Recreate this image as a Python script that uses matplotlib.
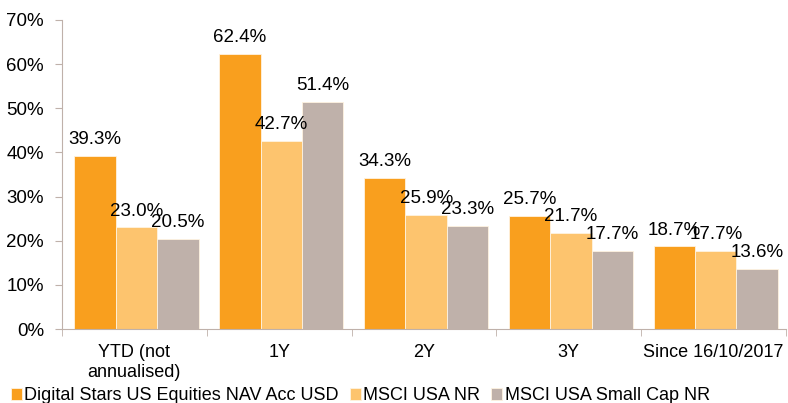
import numpy as np
import matplotlib.pyplot as plt
from matplotlib.ticker import FuncFormatter, FixedLocator

plt.rcParams['font.family'] = ['Liberation Sans', 'DejaVu Sans']

categories = ['YTD (not\nannualised)', '1Y', '2Y', '3Y', 'Since 16/10/2017']
series_names = ['Digital Stars US Equities NAV Acc USD', 'MSCI USA NR', 'MSCI USA Small Cap NR']
fund = [39.3, 62.4, 34.3, 25.7, 18.7]
msci_usa = [23.0, 42.7, 25.9, 21.7, 17.7]
msci_small = [20.5, 51.4, 23.3, 17.7, 13.6]
colors = ['#F99F1E', '#FDC46E', '#BFB1AA']

fig = plt.figure(figsize=(7.88, 4.03), dpi=100)
ax = fig.add_axes([62 / 788, 74 / 403, 724 / 788, 309 / 403])

x = np.arange(len(categories))
w = 0.286
for i, (vals, name, c) in enumerate(zip([fund, msci_usa, msci_small], series_names, colors)):
    pos = x + (i - 1) * w + 0.015
    ax.bar(pos, vals, w, color=c, edgecolor='#FFF3E0', linewidth=0.6, label=name)
    for p, v in zip(pos, vals):
        ax.text(p, v + 1.8, f'{v:.1f}%', ha='center', va='bottom', fontsize=13.5)

ax.set_xlim(-0.5, len(categories) - 0.5)
ax.set_ylim(0, 70)
ax.set_yticks(np.arange(0, 71, 10))
ax.yaxis.set_major_formatter(FuncFormatter(lambda v, _: f'{v:.0f}%'))
ax.set_xticks(x)
ax.set_xticklabels(categories, fontsize=13)
ax.xaxis.set_minor_locator(FixedLocator(np.arange(-0.5, len(categories), 1)))
ax.tick_params(axis='x', which='major', length=0, pad=11)
ax.tick_params(axis='x', which='minor', length=5, color='#BFB1AA')
ax.tick_params(axis='y', labelsize=13.5, length=5, color='#BFB1AA', pad=8)

for s in ['top', 'right']:
    ax.spines[s].set_visible(False)
for s in ['left', 'bottom']:
    ax.spines[s].set_color('#BFB1AA')

leg = fig.legend(loc='lower left', bbox_to_anchor=(0.0, -0.03), ncol=3, frameon=False,
                 fontsize=13, handlelength=0.6, handleheight=0.6, handletextpad=0.15,
                 columnspacing=0.6, borderaxespad=0.2)

fig.savefig('out.png', dpi=100)
